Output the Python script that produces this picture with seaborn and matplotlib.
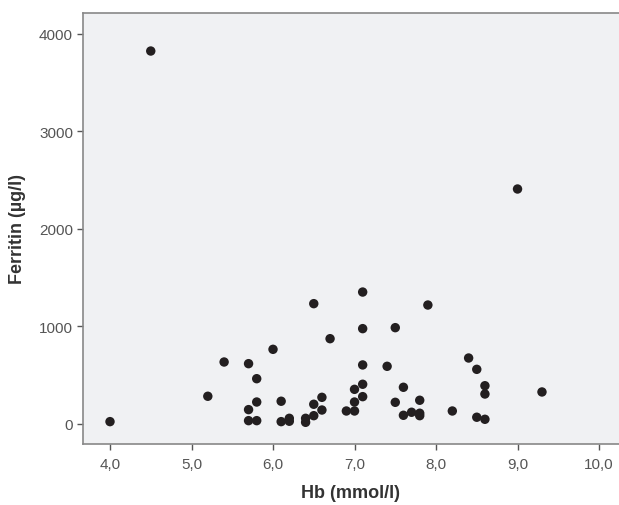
import matplotlib
matplotlib.use("Agg")
import matplotlib.pyplot as plt
import seaborn as sns
import pandas as pd

# Haemoglobin (mmol/l) and ferritin (µg/l) per patient
hb = [4.0, 4.5, 5.2, 5.4, 5.7, 5.7, 5.7, 5.8, 5.8, 5.8, 6.0,
      6.1, 6.1, 6.2, 6.2, 6.4, 6.4, 6.5, 6.5, 6.5, 6.6, 6.6, 6.7,
      6.9, 7.0, 7.0, 7.0, 7.1, 7.1, 7.1, 7.1, 7.1, 7.4, 7.5, 7.5,
      7.6, 7.6, 7.7, 7.8, 7.8, 7.8, 7.9, 8.2, 8.4, 8.5, 8.5, 8.6,
      8.6, 8.6, 9.0, 9.3]
ferritin = [24, 3822, 284, 635, 618, 147, 34, 464, 225, 34, 765,
            233, 24, 58, 28, 58, 17, 1233, 202, 85, 273, 143, 874,
            133, 355, 225, 133, 1352, 977, 605, 407, 280, 591, 987, 222,
            376, 89, 120, 243, 110, 85, 1219, 133, 676, 560, 69, 392,
            307, 48, 2408, 328]

x_ticks = [4.0, 5.0, 6.0, 7.0, 8.0, 9.0, 10.0]
x_tick_labels = ["4,0", "5,0", "6,0", "7,0", "8,0", "9,0", "10,0"]
y_ticks = [0, 1000, 2000, 3000, 4000]

df = pd.DataFrame({"Hb": hb, "Ferritin": ferritin})

sns.set_style("white")
plt.rcParams["font.family"] = ["Liberation Sans", "DejaVu Sans"]

fig = plt.figure(figsize=(6.19, 5.06), dpi=100)
ax = fig.add_axes([0.1336, 0.1206, 0.8664, 0.8518])
ax.set_facecolor("#f0f1f3")

sns.scatterplot(data=df, x="Hb", y="Ferritin", ax=ax, color="#231f20",
                s=46, edgecolor="none", linewidth=0, legend=False)

ax.set_xlim(3.665, 10.245)
ax.set_ylim(-205, 4212)
ax.set_xticks(x_ticks)
ax.set_xticklabels(x_tick_labels)
ax.set_yticks(y_ticks)
ax.set_yticklabels([str(v) for v in y_ticks])

ax.tick_params(axis="both", direction="out", length=4.5, width=1.0,
               color="#555555", labelcolor="#555555", labelsize=11,
               bottom=True, left=True, pad=2.5)
ax.tick_params(axis="x", pad=5)

for side in ["left", "bottom", "top"]:
    ax.spines[side].set_visible(True)
    ax.spines[side].set_color("#888888")
    ax.spines[side].set_linewidth(1.2)
ax.spines["right"].set_visible(False)

ax.set_xlabel("Hb (mmol/l)", fontsize=13, fontweight="bold", color="#333333",
              labelpad=9)
ax.set_ylabel("Ferritin (µg/l)", fontsize=13, fontweight="bold", color="#333333",
              labelpad=9)

fig.savefig("out.png", dpi=100)
